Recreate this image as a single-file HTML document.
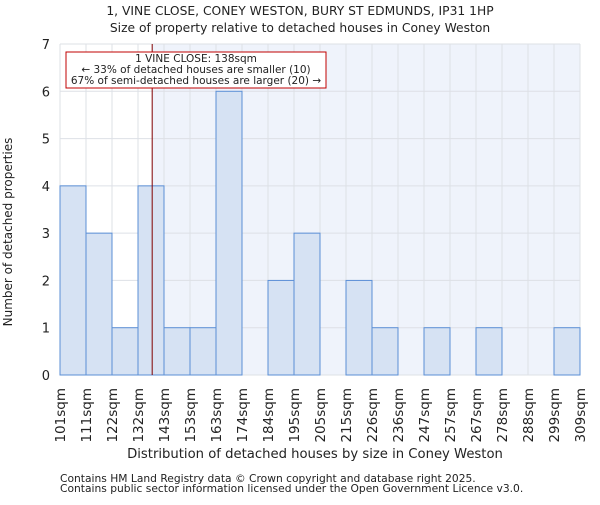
<!DOCTYPE html>
<html><head><meta charset="utf-8"><style>
body{margin:0;background:#fff;}
svg text{font-family:"DejaVu Sans","Liberation Sans",sans-serif;fill:#222;}
</style></head><body>
<svg width="600" height="500" viewBox="0 0 600 500" xmlns="http://www.w3.org/2000/svg" id="c"></svg>
<script>
const binLabels=["101sqm","111sqm","122sqm","132sqm","143sqm","153sqm","163sqm","174sqm","184sqm","195sqm","205sqm","215sqm","226sqm","236sqm","247sqm","257sqm","267sqm","278sqm","288sqm","299sqm","309sqm"];
const counts=[4,3,1,4,1,1,6,0,2,3,0,2,1,0,1,0,1,0,0,1];
const yTicks=[0,1,2,3,4,5,6,7];
const markerIndex=3+6/11; // 138sqm position in bin units
const L=60,R=580,T=44,B=375,YMAX=7;
const n=counts.length, bw=(R-L)/n;
const xs=i=>L+i*bw;
const ys=v=>B-(v/YMAX)*(B-T);
const svg=document.getElementById('c');
const NS='http://www.w3.org/2000/svg';
function mk(tag,attrs,name,parent){const e=document.createElementNS(NS,tag);for(const k in attrs)e.setAttribute(k,attrs[k]);


(parent||svg).appendChild(e);return e;}
const mx=xs(markerIndex);
mk('rect',{x:L,y:T,width:R-L,height:B-T,fill:'#fff'},'plot-background');
mk('rect',{x:mx,y:T,width:R-mx,height:B-T,fill:'#eff3fb'},'larger-region-shade');
for(let i=0;i<=n;i++)mk('line',{x1:xs(i),x2:xs(i),y1:T,y2:B,stroke:'#dde0e6','stroke-width':1},'v-gridline');
yTicks.forEach(t=>mk('line',{x1:L,x2:R,y1:ys(t),y2:ys(t),stroke:'#dde0e6','stroke-width':1},'h-gridline'));
counts.forEach((v,i)=>{if(v>0)mk('rect',{x:xs(i),y:ys(v),width:bw,height:ys(0)-ys(v),fill:'#d6e2f3',stroke:'#5b8fd6','stroke-width':1},'bar-'+binLabels[i]);});
mk('line',{x1:mx,x2:mx,y1:T,y2:B,stroke:'#800000','stroke-width':1},'property-marker-line');
yTicks.forEach(t=>{const e=mk('text',{x:L-10,y:ys(t)+5,'font-size':13,'text-anchor':'end'},'y-tick-label');e.textContent=t;});
binLabels.forEach((l,i)=>{const x=xs(i);const e=mk('text',{x:0,y:0,'font-size':13.5,'text-anchor':'end',transform:`translate(${x+5},388) rotate(-90)`},'x-tick-label');e.textContent=l;});
mk('rect',{x:66,y:52,width:260,height:36,fill:'#fff',stroke:'#c00000','stroke-width':1},'annotation-box');
[['1 VINE CLOSE: 138sqm',62],['← 33% of detached houses are smaller (10)',73],['67% of semi-detached houses are larger (20) →',84]].forEach(a=>{const e=mk('text',{x:196,y:a[1],'font-size':10.5,'text-anchor':'middle'},'annotation-text');e.textContent=a[0];});
const t1=mk('text',{x:300,y:15,'font-size':12.3,'text-anchor':'middle'},'chart-title');t1.textContent='1, VINE CLOSE, CONEY WESTON, BURY ST EDMUNDS, IP31 1HP';
const t2=mk('text',{x:300,y:32,'font-size':12.3,'text-anchor':'middle'},'chart-subtitle');t2.textContent='Size of property relative to detached houses in Coney Weston';
const xt=mk('text',{x:315,y:458,'font-size':13.2,'text-anchor':'middle'},'x-axis-title');xt.textContent='Distribution of detached houses by size in Coney Weston';
const yt=mk('text',{x:0,y:0,'font-size':12,'text-anchor':'middle',transform:'translate(12,232) rotate(-90)'},'y-axis-title');yt.textContent='Number of detached properties';
const f1=mk('text',{x:60,y:482,'font-size':10.7,fill:'#444'},'footer-line-1');f1.textContent='Contains HM Land Registry data © Crown copyright and database right 2025.';
const f2=mk('text',{x:60,y:492,'font-size':10.7,fill:'#444'},'footer-line-2');f2.textContent='Contains public sector information licensed under the Open Government Licence v3.0.';
</script>
</body></html>
